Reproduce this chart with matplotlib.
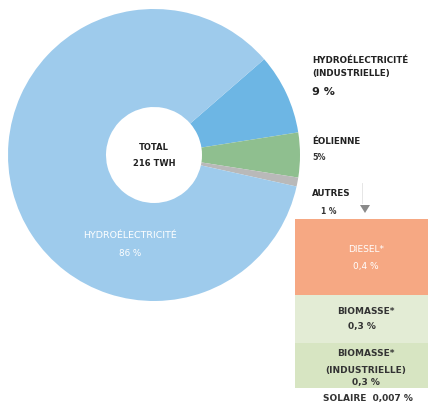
import matplotlib.pyplot as plt
from matplotlib.patches import Rectangle, Polygon

# parts of the total production (%)
pie_labels = ['HYDROÉLECTRICITÉ\n(INDUSTRIELLE)', 'ÉOLIENNE', 'AUTRES', 'HYDROÉLECTRICITÉ']
pie_values = [9, 5, 1, 86]
pie_colors = ['#6db6e4', '#8fbf8f', '#b9b9b9', '#9ecbec']

# breakdown of "autres"
autres_labels = ['DIESEL*', 'BIOMASSE*', 'BIOMASSE*\n(INDUSTRIELLE)']
autres_values = ['0,4 %', '0,3 %', '0,3 %']
autres_colors = ['#f6a883', '#e3ecd5', '#d7e5c2']
solaire_value = '0,007 %'

W, H = 432, 407
fig = plt.figure(figsize=(W / 100, H / 100), dpi=100)
ax = fig.add_axes([0, 0, 1, 1])

font = 'DejaVu Sans'
fs = 6.3

# donut
cx, cy, r = 154, H - 155, 146
ax.pie(pie_values, colors=pie_colors, startangle=41, counterclock=False,
       center=(cx, cy), radius=r, wedgeprops=dict(width=r - 48, linewidth=0),
       frame=True)
ax.set_xlim(0, W)
ax.set_ylim(0, H)
ax.set_aspect('equal')
ax.axis('off')

ax.text(cx, cy + 8, 'TOTAL', ha='center', va='center', fontsize=6,
        fontweight='bold', color='#222222', family=font)
ax.text(cx, cy - 8, '216 TWH', ha='center', va='center', fontsize=6,
        fontweight='bold', color='#222222', family=font)

ax.text(130, H - 235, pie_labels[3], ha='center', va='center', fontsize=6.8,
        color='white', family=font)
ax.text(130, H - 253, f'{pie_values[3]} %', ha='center', va='center', fontsize=6.3,
        color='white', family=font)

# labels on the right
lx = 312
ax.text(lx, H - 67, pie_labels[0], ha='left', va='center', fontsize=fs,
        fontweight='bold', color='#222222', family=font, linespacing=1.6)
ax.text(lx, H - 92, f'{pie_values[0]} %', ha='left', va='center', fontsize=8,
        fontweight='bold', color='#222222', family=font)
ax.text(lx, H - 142, pie_labels[1], ha='left', va='center', fontsize=fs,
        fontweight='bold', color='#222222', family=font)
ax.text(lx, H - 158, f'{pie_values[1]}%', ha='left', va='center', fontsize=5.8,
        fontweight='bold', color='#333333', family=font)
ax.text(lx, H - 193, pie_labels[2], ha='left', va='center', fontsize=fs,
        fontweight='bold', color='#222222', family=font)
ax.text(lx + 9, H - 212, f'{pie_values[2]} %', ha='left', va='center', fontsize=5.5,
        fontweight='bold', color='#333333', family=font)

# faint bracket and arrow pointing to the breakdown
ax.plot([362, 362], [H - 183, H - 203], color='#e6e6e6', lw=0.7)
ax.add_patch(Polygon([[360, H - 205], [370, H - 205], [365, H - 213]],
                     closed=True, color='#8a8a8a', lw=0))

# stacked boxes for "autres"
bx0, bx1 = 295, 428
edges = [219, 295, 343, 388]
for i, col in enumerate(autres_colors):
    top, bot = edges[i], edges[i + 1]
    ax.add_patch(Rectangle((bx0, H - bot), bx1 - bx0, bot - top, color=col, lw=0))

txt_dark = dict(ha='center', va='center', fontsize=6.5, fontweight='bold',
                color='#333333', family=font)
ax.text(366, H - 250, autres_labels[0], ha='center', va='center', fontsize=6.5,
        color='white', family=font)
ax.text(366, H - 266, autres_values[0], ha='center', va='center', fontsize=6.5,
        color='white', family=font)
ax.text(366, H - 312, autres_labels[1], **txt_dark)
ax.text(362, H - 327, autres_values[1], **txt_dark)
ax.text(366, H - 353, 'BIOMASSE*', **txt_dark)
ax.text(366, H - 370, '(INDUSTRIELLE)', **txt_dark)
ax.text(366, H - 382, autres_values[2], **txt_dark)
ax.text(368, H - 399, f'SOLAIRE  {solaire_value}', **txt_dark)

fig.savefig('out.png', dpi=100)
